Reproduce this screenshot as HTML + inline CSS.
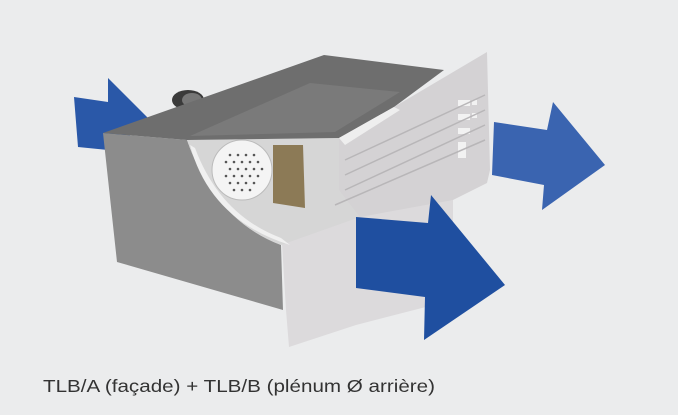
<!DOCTYPE html>
<html><head><style>
html,body{margin:0;padding:0;background:#ebeced;}
svg{display:block;}
</style></head><body>
<svg width="678" height="415" viewBox="0 0 678 415" xmlns="http://www.w3.org/2000/svg">
<rect width="678" height="415" fill="#ebeced"/>
<!-- left arrow -->
<polygon points="74,97 108,102 108,78 150,120 108,152 108,150 78,147" fill="#2a58a8"/>
<!-- fan cylinder -->
<ellipse cx="188" cy="100" rx="16" ry="10" fill="#3a3a3a"/>
<ellipse cx="192" cy="100" rx="10" ry="7" fill="#777"/>
<!-- lower white plate region -->
<polygon points="281,227 360,210 453,200 453,300 356,325 289,347 286,310" fill="#dcdadc"/>
<!-- front left face -->
<path d="M103,133 L187,140 Q215,220 281,245 L283,310 L117,262 Z" fill="#8c8c8c"/>
<!-- cutaway interior -->
<path d="M187,140 L339,138 L420,150 L460,190 L360,217 L281,245 Q215,220 187,140 Z" fill="#d6d6d6"/>
<path d="M195,148 Q220,215 281,238 L290,245 Q210,220 190,145 Z" fill="#f0f0f0"/>
<circle cx="242" cy="170" r="30" fill="#f4f4f4"/>
<circle cx="242" cy="170" r="30" fill="none" stroke="#bbb" stroke-width="1"/>
<g fill="#555">
<circle cx="230" cy="155" r="1.3"/><circle cx="238" cy="155" r="1.3"/><circle cx="246" cy="155" r="1.3"/><circle cx="254" cy="155" r="1.3"/>
<circle cx="226" cy="162" r="1.3"/><circle cx="234" cy="162" r="1.3"/><circle cx="242" cy="162" r="1.3"/><circle cx="250" cy="162" r="1.3"/><circle cx="258" cy="162" r="1.3"/>
<circle cx="230" cy="169" r="1.3"/><circle cx="238" cy="169" r="1.3"/><circle cx="246" cy="169" r="1.3"/><circle cx="254" cy="169" r="1.3"/><circle cx="262" cy="169" r="1.3"/>
<circle cx="226" cy="176" r="1.3"/><circle cx="234" cy="176" r="1.3"/><circle cx="242" cy="176" r="1.3"/><circle cx="250" cy="176" r="1.3"/><circle cx="258" cy="176" r="1.3"/>
<circle cx="230" cy="183" r="1.3"/><circle cx="238" cy="183" r="1.3"/><circle cx="246" cy="183" r="1.3"/><circle cx="254" cy="183" r="1.3"/>
<circle cx="234" cy="190" r="1.3"/><circle cx="242" cy="190" r="1.3"/><circle cx="250" cy="190" r="1.3"/>
</g>
<!-- brown block -->
<polygon points="273,145 303,145 305,208 273,203" fill="#8c7a56"/>
<!-- top face -->
<polygon points="103,133 324,55 444,70 394,107 339,138 187,140" fill="#6e6e6e"/>
<polygon points="190,136 310,83 400,92 335,132" fill="#7a7a7a"/>
<!-- faceplate -->
<polygon points="394,107 487,52 490,170 487,183 453,200 360,217 339,190 339,138" fill="#d4d2d4"/>
<polygon points="339,138 394,107 400,110 345,145" fill="#eeeeee"/>
<g fill="#f2f2f2">
<rect x="458" y="100" width="12" height="6"/><rect x="472" y="100" width="5" height="5"/>
<rect x="458" y="114" width="12" height="6"/><rect x="472" y="113" width="5" height="5"/>
<rect x="458" y="128" width="12" height="6"/>
<rect x="458" y="142" width="8" height="16"/>
</g>
<g stroke="#b8b6b8" stroke-width="1.5" fill="none">
<line x1="345" y1="160" x2="485" y2="95"/>
<line x1="345" y1="175" x2="485" y2="110"/>
<line x1="345" y1="190" x2="485" y2="125"/>
<line x1="335" y1="205" x2="485" y2="140"/>
</g>
<!-- right arrow -->
<polygon points="494,122 547,130 553,102 605,165 542,210 544,185 492,175" fill="#3a64b0"/>
<!-- big arrow -->
<polygon points="356,217 428,223 431,195 505,285 424,340 425,297 356,288" fill="#1f4fa0"/>
<text x="43" y="392" font-family="Liberation Sans, sans-serif" font-size="17.5" fill="#333" textLength="392" lengthAdjust="spacingAndGlyphs">TLB/A (façade) + TLB/B (plénum Ø arrière)</text>
</svg>
</body></html>
